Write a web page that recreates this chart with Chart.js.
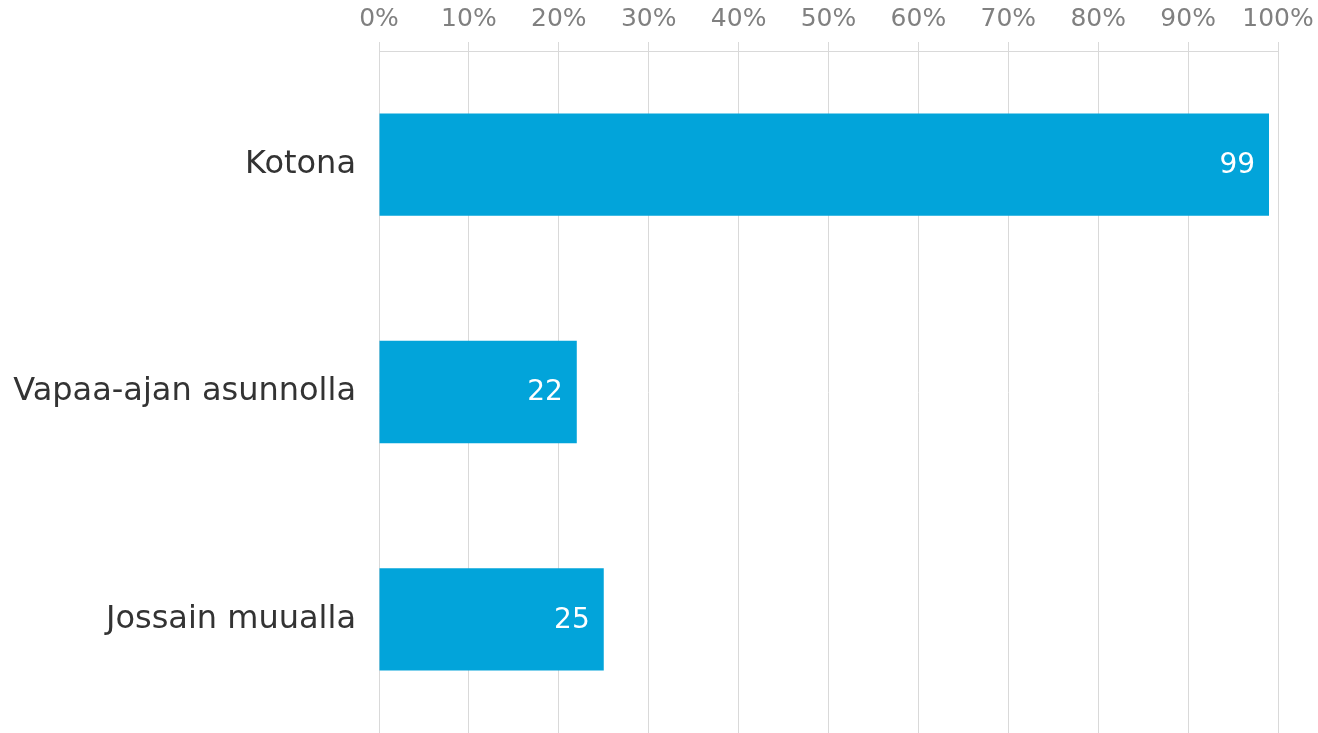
<!DOCTYPE html>
<html>
<head>
<meta charset="utf-8">
<script src="https://cdn.jsdelivr.net/npm/chart.js@4"></script>
<style>
  html, body { margin: 0; padding: 0; background: #ffffff; }
  canvas { display: block; }
</style>
</head>
<body>
<canvas id="c" width="1318" height="733"></canvas>
<script>
const categories = ['Kotona', 'Vapaa-ajan asunnolla', 'Jossain muualla'];
const values = [99, 22, 25];
const tickValues = [0, 10, 20, 30, 40, 50, 60, 70, 80, 90, 100];

const FONT = '"DejaVu Sans", Verdana, sans-serif';

const valueLabels = {
  id: 'valueLabels',
  afterDatasetsDraw(chart) {
    const ctx = chart.ctx;
    const meta = chart.getDatasetMeta(0);
    ctx.save();
    ctx.font = '28px ' + FONT;
    ctx.fillStyle = '#ffffff';
    ctx.textAlign = 'right';
    ctx.textBaseline = 'middle';
    meta.data.forEach((bar, i) => {
      ctx.fillText(String(values[i]), bar.x - 14, bar.y + 1);
    });
    ctx.restore();
  }
};

new Chart(document.getElementById('c'), {
  type: 'bar',
  data: {
    labels: categories,
    datasets: [{
      data: values,
      backgroundColor: '#02A4DA',
      borderWidth: 0,
      barPercentage: 0.45,
      categoryPercentage: 1
    }]
  },
  options: {
    indexAxis: 'y',
    responsive: false,
    animation: false,
    layout: { padding: { left: 0, right: 40, top: 0, bottom: 0 } },
    plugins: { legend: { display: false }, tooltip: { enabled: false } },
    scales: {
      x: {
        position: 'top',
        min: 0,
        max: 100,
        afterBuildTicks(scale) { scale.ticks = tickValues.map(v => ({ value: v })); },
        afterFit(scale) { scale.height = 51; scale.paddingLeft = 0; scale.paddingRight = 0; },
        grid: { color: '#D9D9D9', lineWidth: 1, tickLength: 9, drawTicks: true },
        border: { color: '#D9D9D9', width: 1 },
        ticks: {
          color: '#808080',
          font: { family: FONT, size: 25 },
          padding: 8,
          maxRotation: 0,
          callback: v => v + '%'
        }
      },
      y: {
        afterFit(scale) { scale.width = 379; scale.paddingTop = 0; scale.paddingBottom = 0; },
        grid: { display: false, drawTicks: false },
        border: { display: false },
        ticks: {
          color: '#333333',
          font: { family: FONT, size: 32 },
          padding: 23
        }
      }
    }
  },
  plugins: [valueLabels]
});
</script>
</body>
</html>
